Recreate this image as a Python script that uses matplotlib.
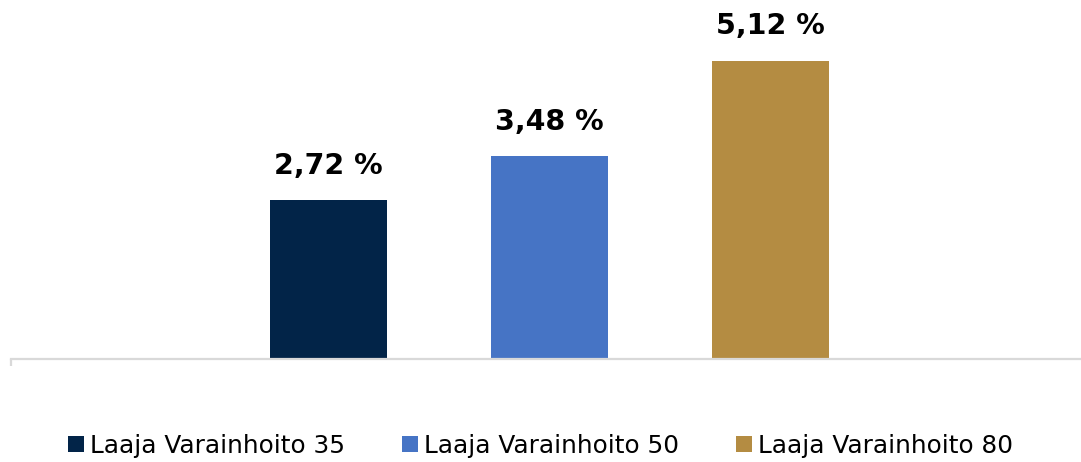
import matplotlib.pyplot as plt

series = ['Laaja Varainhoito 35', 'Laaja Varainhoito 50', 'Laaja Varainhoito 80']
values = [2.72, 3.48, 5.12]
labels = ['2,72 %', '3,48 %', '5,12 %']
colors = ['#022448', '#4674C5', '#B48C42']

fig = plt.figure(figsize=(10.81, 4.62), dpi=100)
ax = fig.add_axes([11 / 1081, 103 / 462, 1070 / 1081, 359 / 462])

xpos = [0, 1, 2]
for x, v, lab, c, name in zip(xpos, values, labels, colors, series):
    ax.bar(x, v, width=0.53, color=c, label=name)
    ax.text(x, v + 0.35, lab, ha='center', va='bottom',
            fontsize=20.5, fontweight='bold', color='black')

ax.set_xlim(-1.437, 3.405)
ax.set_ylim(0, 6.16)

for s in ['top', 'left', 'right']:
    ax.spines[s].set_visible(False)
ax.spines['bottom'].set_color('#D9D9D9')
ax.spines['bottom'].set_linewidth(1.6)
ax.set_xticks([-1.437])
ax.set_xticklabels([])
ax.tick_params(axis='x', colors='#D9D9D9', length=5, width=1.6, direction='out')
ax.set_yticks([])

fig.legend(loc='center', bbox_to_anchor=(0.5, 0.035), ncol=3, frameon=False,
           fontsize=17.8, handlelength=0.65, handleheight=0.65,
           handletextpad=0.25, columnspacing=2.3)

fig.savefig('out.png', dpi=100)
